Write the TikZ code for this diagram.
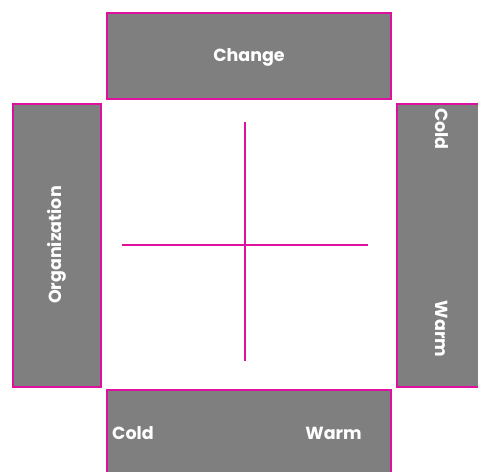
\documentclass[tikz,border=0pt]{standalone}
\usepackage{fontspec}
\setmainfont{Poppins}
\definecolor{mag}{RGB}{222,16,158}
\definecolor{boxgray}{RGB}{127,127,127}
\tikzset{
  panel/.style={draw=mag, fill=boxgray, line width=2pt},
  lbl/.style={text=white, font=\fontsize{17.5}{20}\selectfont\bfseries, inner sep=0pt},
  axis/.style={draw=mag, line width=2.2pt}
}
\begin{document}
\begin{tikzpicture}[x=1pt,y=-1pt]
\useasboundingbox (0,0) rectangle (478,471);
\clip (0,0) rectangle (478,471);
\fill[white] (0,0) rectangle (478,471);
\draw[panel] (107,13) rectangle (391,99);
\draw[panel] (13,104) rectangle (101,387);
\draw[panel] (397,104) rectangle (485,387);
\draw[panel] (107,390) rectangle (391,480);
\node[lbl] (change) at (249,57.5) {Change};
\node[lbl, rotate=90] (org) at (57,245) {Organization};
\node[lbl, rotate=-90] (rcold) at (442,129) {Cold};
\node[lbl, rotate=-90] (rwarm) at (442,329) {Warm};
\node[lbl] (bcold) at (133,433) {Cold};
\node[lbl] (bwarm) at (333.5,433) {Warm};
\coordinate (vt) at (245,122);
\coordinate (vb) at (245,361);
\coordinate (hl) at (122,245);
\coordinate (hr) at (368,245);
\draw[axis] (vt) -- (vb);
\draw[axis] (hl) -- (hr);
\end{tikzpicture}
\end{document}
